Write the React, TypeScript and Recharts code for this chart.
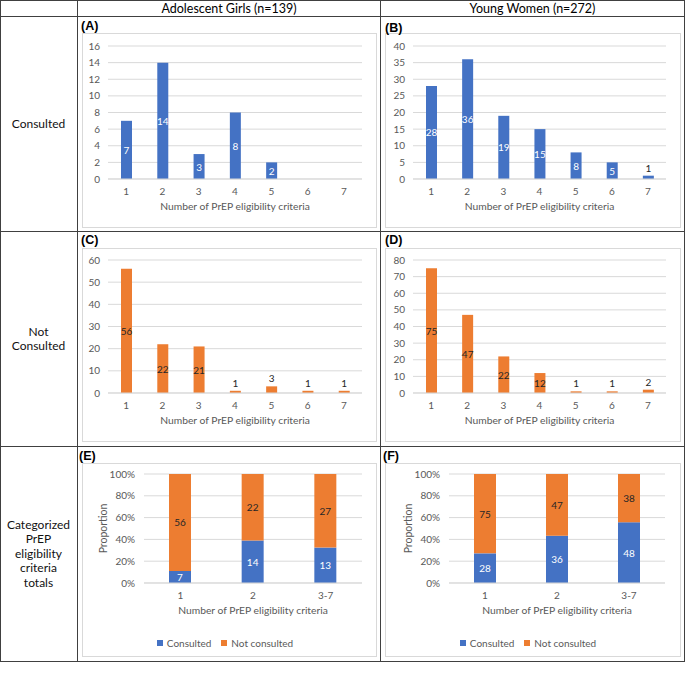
import React from 'react';
import { BarChart, Bar, XAxis, YAxis, CartesianGrid, LabelList, Legend } from 'recharts';

// per-criterion counts (1..7)
const criteria = ['1', '2', '3', '4', '5', '6', '7'];
const agConsulted = [7, 14, 3, 8, 2, 0, 0];
const ywConsulted = [28, 36, 19, 15, 8, 5, 1];
const agNotConsulted = [56, 22, 21, 1, 3, 1, 1];
const ywNotConsulted = [75, 47, 22, 12, 1, 1, 2];

// grouped totals
const groups = ['1', '2', '3-7'];
const agGroupConsulted = [7, 14, 13];
const agGroupNotConsulted = [56, 22, 27];
const ywGroupConsulted = [28, 36, 48];
const ywGroupNotConsulted = [75, 47, 38];

// y ticks
const ticksA = [0, 2, 4, 6, 8, 10, 12, 14, 16];
const ticksB = [0, 5, 10, 15, 20, 25, 30, 35, 40];
const ticksC = [0, 10, 20, 30, 40, 50, 60];
const ticksD = [0, 10, 20, 30, 40, 50, 60, 70, 80];
const ticksPct = [0, 0.2, 0.4, 0.6, 0.8, 1];

const BLUE = '#4472C4';
const ORANGE = '#ED7D31';
const GRID = '#D9D9D9';
const AXIS_TEXT = '#595959';
const LINE = '#404040';
const xTitle = 'Number of PrEP eligibility criteria';

const makeLabel = (inside: string, above = true) => (props: any) => {
  const vb = props.viewBox && props.viewBox.width != null ? props.viewBox : props;
  const { x, y, width, height } = vb;
  const value = props.value;
  if (!value) return null;
  const h = Math.abs(height);
  const top = Math.min(y, y + height);
  const cx = x + width / 2;
  if (above && h < 12) {
    return (
      <text x={cx} y={top - 4} textAnchor="middle" fontSize={10} fill="#262626">
        {value}
      </text>
    );
  }
  return (
    <text x={cx} y={top + h / 2} textAnchor="middle" dominantBaseline="central" fontSize={10} fill={inside}>
      {value}
    </text>
  );
};

type CountProps = {
  values: number[];
  ticks: number[];
  color: string;
  labelColor: string;
  left: number;
  top: number;
  width: number;
  height: number;
  marginTop: number;
  yWidth: number;
};

function CountChart({ values, ticks, color, labelColor, left, top, width, height, marginTop, yWidth }: CountProps) {
  const data = criteria.map((c, i) => ({ c, v: values[i] }));
  return (
    <div style={{ position: 'absolute', left, top }}>
      <BarChart width={width} height={height} data={data} margin={{ top: marginTop, right: 15, left: 0, bottom: 0 }}>
        <CartesianGrid vertical={false} stroke={GRID} />
        <XAxis
          dataKey="c"
          tickLine={false}
          tickSize={0}
          tickMargin={9}
          axisLine={{ stroke: GRID }}
          tick={{ fontSize: 10, fill: AXIS_TEXT }}
          height={height - marginTop - 133}
          label={{ value: xTitle, position: 'insideTop', offset: 24, fontSize: 10.3, fill: AXIS_TEXT }}
        />
        <YAxis
          width={yWidth}
          domain={[0, ticks[ticks.length - 1]]}
          ticks={ticks}
          interval={0}
          axisLine={false}
          tickLine={false}
          tickSize={0}
          tickMargin={8}
          tick={{ fontSize: 10, fill: AXIS_TEXT }}
        />
        <Bar dataKey="v" fill={color} barSize={11} isAnimationActive={false}>
          <LabelList dataKey="v" content={makeLabel(labelColor)} />
        </Bar>
      </BarChart>
    </div>
  );
}

type StackProps = {
  consulted: number[];
  notConsulted: number[];
  left: number;
  top: number;
  yWidth: number;
  labelOffset: number;
};

function StackChart({ consulted, notConsulted, left, top, yWidth, labelOffset }: StackProps) {
  const data = groups.map((g, i) => ({ g, consulted: consulted[i], notConsulted: notConsulted[i] }));
  return (
    <div style={{ position: 'absolute', left, top }}>
      <BarChart
        width={295}
        height={194}
        data={data}
        stackOffset="expand"
        margin={{ top: 11, right: 15, left: 0, bottom: 6 }}
      >
        <CartesianGrid vertical={false} stroke={GRID} />
        <XAxis
          dataKey="g"
          tickLine={false}
          tickSize={0}
          tickMargin={9}
          axisLine={{ stroke: GRID }}
          tick={{ fontSize: 10, fill: AXIS_TEXT }}
          height={48}
          label={{ value: xTitle, position: 'insideTop', offset: 24, fontSize: 10.3, fill: AXIS_TEXT }}
        />
        <YAxis
          width={yWidth}
          domain={[0, 1]}
          ticks={ticksPct}
          interval={0}
          axisLine={false}
          tickLine={false}
          tickSize={0}
          tickMargin={9}
          tickFormatter={(v: number) => `${Math.round(v * 100)}%`}
          tick={{ fontSize: 10, fill: AXIS_TEXT }}
          label={{
            value: 'Proportion',
            angle: -90,
            position: 'insideLeft',
            offset: labelOffset,
            fontSize: 10.5,
            fill: AXIS_TEXT,
            style: { textAnchor: 'middle' },
          }}
        />
        <Legend
          verticalAlign="bottom"
          height={20}
          iconType="square"
          iconSize={6}
          wrapperStyle={{ left: 8 }}
          formatter={(value: string) => <span style={{ color: AXIS_TEXT, fontSize: 10 }}>{value}</span>}
        />
        <Bar dataKey="consulted" name="Consulted" stackId="s" fill={BLUE} barSize={22} isAnimationActive={false}>
          <LabelList dataKey="consulted" content={makeLabel('#FFFFFF', false)} />
        </Bar>
        <Bar dataKey="notConsulted" name="Not consulted" stackId="s" fill={ORANGE} barSize={22} isAnimationActive={false}>
          <LabelList dataKey="notConsulted" content={makeLabel('#262626', false)} />
        </Bar>
      </BarChart>
    </div>
  );
}

const abs = (s: React.CSSProperties): React.CSSProperties => ({ position: 'absolute', ...s });

function Panel({ left, top, width, height }: { left: number; top: number; width: number; height: number }) {
  return <div style={abs({ left, top, width, height, border: `1px solid ${GRID}`, boxSizing: 'border-box' })} />;
}

function Tag({ left, top, text }: { left: number; top: number; text: string }) {
  return (
    <div style={abs({ left, top, fontSize: 12.5, fontWeight: 'bold', fontFamily: 'Liberation Sans, Arial, sans-serif', lineHeight: '14px' })}>
      {text}
    </div>
  );
}

function RowLabel({ top, height, children }: { top: number; height: number; children: React.ReactNode }) {
  return (
    <div
      style={abs({
        left: 0,
        top,
        width: 77,
        height,
        display: 'flex',
        alignItems: 'center',
        justifyContent: 'center',
        textAlign: 'center',
        fontSize: 12,
        lineHeight: '14.5px',
        color: '#111',
      })}
    >
      <div>{children}</div>
    </div>
  );
}

export default function App() {
  return (
    <div style={abs({ left: 0, top: 0, width: 685, height: 675, background: '#fff', fontFamily: 'Lato, sans-serif', overflow: 'hidden' })}>
      {/* table grid */}
      <div style={abs({ left: 0, top: 0, width: 685, height: 662, border: `1px solid ${LINE}`, boxSizing: 'border-box' })} />
      <div style={abs({ left: 77, top: 0, width: 1, height: 662, background: LINE })} />
      <div style={abs({ left: 380, top: 0, width: 1, height: 662, background: LINE })} />
      <div style={abs({ left: 0, top: 16, width: 685, height: 1, background: LINE })} />
      <div style={abs({ left: 0, top: 231, width: 685, height: 1, background: LINE })} />
      <div style={abs({ left: 0, top: 446, width: 685, height: 1, background: LINE })} />

      {/* headers */}
      <div style={abs({ left: 78, top: 1, width: 302, height: 15, textAlign: 'center', fontSize: 12.5, lineHeight: '15px' })}>
        Adolescent Girls (n=139)
      </div>
      <div style={abs({ left: 381, top: 1, width: 303, height: 15, textAlign: 'center', fontSize: 12.5, lineHeight: '15px' })}>
        Young Women (n=272)
      </div>

      <RowLabel top={17} height={214}>Consulted</RowLabel>
      <RowLabel top={232} height={214}>
        Not
        <br />
        Consulted
      </RowLabel>
      <RowLabel top={447} height={214}>
        Categorized
        <br />
        PrEP
        <br />
        eligibility
        <br />
        criteria
        <br />
        totals
      </RowLabel>

      {/* panels */}
      <Panel left={82} top={33} width={295} height={195} />
      <Panel left={385} top={33} width={296} height={195} />
      <Panel left={82} top={248} width={295} height={194} />
      <Panel left={385} top={248} width={296} height={194} />
      <Panel left={82} top={463} width={295} height={194} />
      <Panel left={385} top={463} width={296} height={194} />

      <Tag left={81} top={19} text="(A)" />
      <Tag left={385} top={21} text="(B)" />
      <Tag left={81} top={233} text="(C)" />
      <Tag left={385} top={233} text="(D)" />
      <Tag left={79} top={449} text="(E)" />
      <Tag left={383} top={449} text="(F)" />

      <CountChart values={agConsulted} ticks={ticksA} color={BLUE} labelColor="#FFFFFF" left={82} top={33} width={295} height={195} marginTop={13} yWidth={26} />
      <CountChart values={ywConsulted} ticks={ticksB} color={BLUE} labelColor="#FFFFFF" left={385} top={33} width={296} height={195} marginTop={13} yWidth={28} />
      <CountChart values={agNotConsulted} ticks={ticksC} color={ORANGE} labelColor="#262626" left={82} top={248} width={295} height={194} marginTop={12} yWidth={26} />
      <CountChart values={ywNotConsulted} ticks={ticksD} color={ORANGE} labelColor="#262626" left={385} top={248} width={296} height={194} marginTop={12} yWidth={28} />

      <StackChart consulted={agGroupConsulted} notConsulted={agGroupNotConsulted} left={82} top={463} yWidth={62} labelOffset={21} />
      <StackChart consulted={ywGroupConsulted} notConsulted={ywGroupNotConsulted} left={385} top={463} yWidth={64} labelOffset={23} />
    </div>
  );
}
